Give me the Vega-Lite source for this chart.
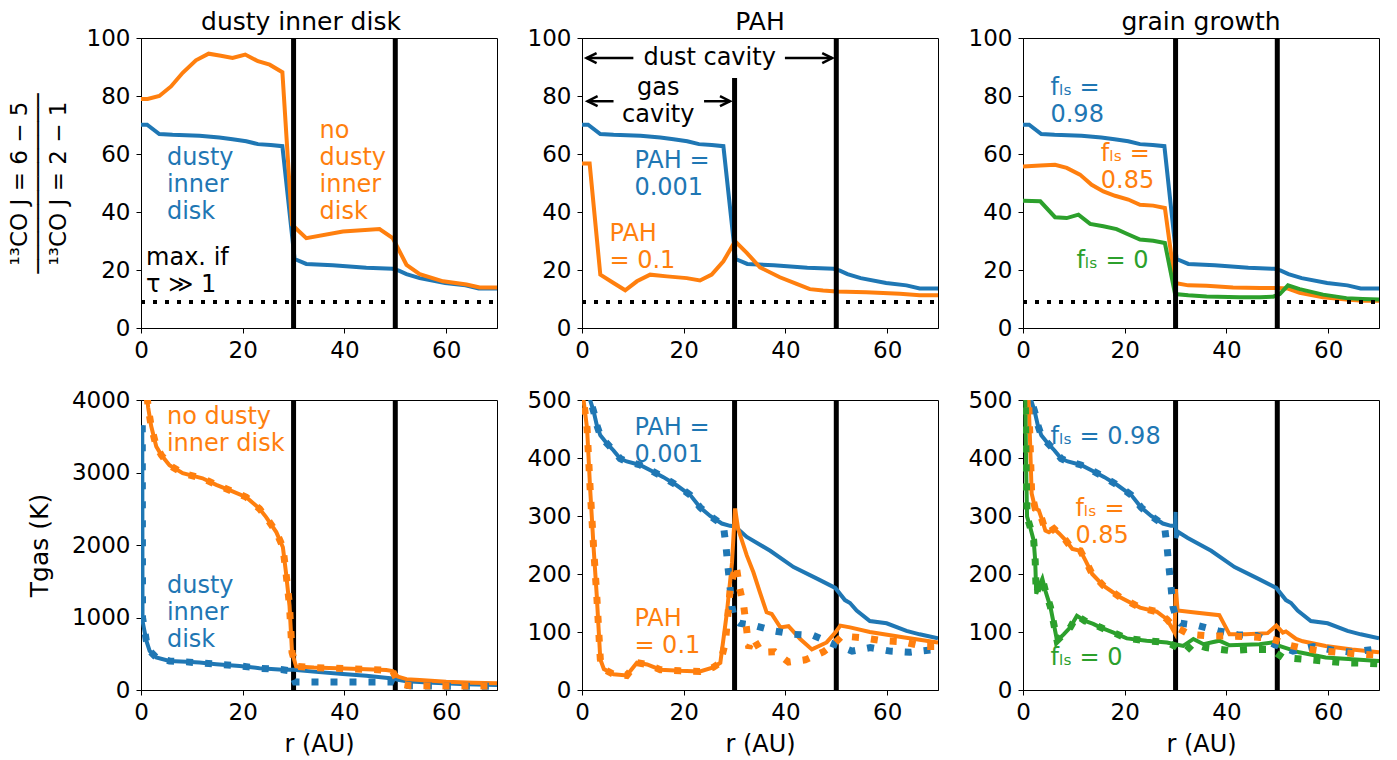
{
"$schema": "https://vega.github.io/schema/vega-lite/v6.json",
"padding": {"left": 7, "top": 9, "right": 5, "bottom": 5},
"background": "white",
"datasets": {
"lines": [
{"p":"A","s":"dusty inner disk","d":"solid","r":0,"v":70.1},{"p":"A","s":"dusty inner disk","d":"solid","r":1.2,"v":70.1},{"p":"A","s":"dusty inner disk","d":"solid","r":3.6,"v":66.9},{"p":"A","s":"dusty inner disk","d":"solid","r":6.2,"v":66.6},{"p":"A","s":"dusty inner disk","d":"solid","r":11.5,"v":66.3},{"p":"A","s":"dusty inner disk","d":"solid","r":15.4,"v":65.7},{"p":"A","s":"dusty inner disk","d":"solid","r":18,"v":65.1},{"p":"A","s":"dusty inner disk","d":"solid","r":20.7,"v":64.4},{"p":"A","s":"dusty inner disk","d":"solid","r":23,"v":63.4},{"p":"A","s":"dusty inner disk","d":"solid","r":25.5,"v":63.1},{"p":"A","s":"dusty inner disk","d":"solid","r":27.8,"v":62.7},{"p":"A","s":"dusty inner disk","d":"solid","r":30.2,"v":23.8},{"p":"A","s":"dusty inner disk","d":"solid","r":32.5,"v":22.1},{"p":"A","s":"dusty inner disk","d":"solid","r":37.7,"v":21.6},{"p":"A","s":"dusty inner disk","d":"solid","r":44.3,"v":20.8},{"p":"A","s":"dusty inner disk","d":"solid","r":49.5,"v":20.4},{"p":"A","s":"dusty inner disk","d":"solid","r":50.7,"v":19.8},{"p":"A","s":"dusty inner disk","d":"solid","r":52.2,"v":18.6},{"p":"A","s":"dusty inner disk","d":"solid","r":54.8,"v":17.2},{"p":"A","s":"dusty inner disk","d":"solid","r":59.8,"v":15.5},{"p":"A","s":"dusty inner disk","d":"solid","r":63.8,"v":14.7},{"p":"A","s":"dusty inner disk","d":"solid","r":66.4,"v":13.6},{"p":"A","s":"dusty inner disk","d":"solid","r":70,"v":13.6},
{"p":"A","s":"no dusty inner disk","d":"solid","r":0,"v":79},{"p":"A","s":"no dusty inner disk","d":"solid","r":1.3,"v":79},{"p":"A","s":"no dusty inner disk","d":"solid","r":3.6,"v":80},{"p":"A","s":"no dusty inner disk","d":"solid","r":5.9,"v":83.3},{"p":"A","s":"no dusty inner disk","d":"solid","r":8.2,"v":88},{"p":"A","s":"no dusty inner disk","d":"solid","r":10.8,"v":92.3},{"p":"A","s":"no dusty inner disk","d":"solid","r":13.3,"v":94.6},{"p":"A","s":"no dusty inner disk","d":"solid","r":15.7,"v":93.9},{"p":"A","s":"no dusty inner disk","d":"solid","r":18,"v":93.1},{"p":"A","s":"no dusty inner disk","d":"solid","r":20.5,"v":94.3},{"p":"A","s":"no dusty inner disk","d":"solid","r":23,"v":92},{"p":"A","s":"no dusty inner disk","d":"solid","r":25.3,"v":90.8},{"p":"A","s":"no dusty inner disk","d":"solid","r":27.8,"v":88.2},{"p":"A","s":"no dusty inner disk","d":"solid","r":29.7,"v":35.6},{"p":"A","s":"no dusty inner disk","d":"solid","r":32.5,"v":31},{"p":"A","s":"no dusty inner disk","d":"solid","r":39.7,"v":33.3},{"p":"A","s":"no dusty inner disk","d":"solid","r":46.9,"v":34.1},{"p":"A","s":"no dusty inner disk","d":"solid","r":49.5,"v":31},{"p":"A","s":"no dusty inner disk","d":"solid","r":52.2,"v":21.8},{"p":"A","s":"no dusty inner disk","d":"solid","r":54.8,"v":18.6},{"p":"A","s":"no dusty inner disk","d":"solid","r":59.4,"v":16.1},{"p":"A","s":"no dusty inner disk","d":"solid","r":64,"v":15},{"p":"A","s":"no dusty inner disk","d":"solid","r":66.6,"v":14},{"p":"A","s":"no dusty inner disk","d":"solid","r":70,"v":14},
{"p":"B","s":"PAH = 0.001","d":"solid","r":0,"v":70.1},{"p":"B","s":"PAH = 0.001","d":"solid","r":1.2,"v":70.1},{"p":"B","s":"PAH = 0.001","d":"solid","r":3.6,"v":66.9},{"p":"B","s":"PAH = 0.001","d":"solid","r":6.2,"v":66.6},{"p":"B","s":"PAH = 0.001","d":"solid","r":11.5,"v":66.3},{"p":"B","s":"PAH = 0.001","d":"solid","r":15.4,"v":65.7},{"p":"B","s":"PAH = 0.001","d":"solid","r":18,"v":65.1},{"p":"B","s":"PAH = 0.001","d":"solid","r":20.7,"v":64.4},{"p":"B","s":"PAH = 0.001","d":"solid","r":23,"v":63.4},{"p":"B","s":"PAH = 0.001","d":"solid","r":25.5,"v":63.1},{"p":"B","s":"PAH = 0.001","d":"solid","r":27.8,"v":62.7},{"p":"B","s":"PAH = 0.001","d":"solid","r":30.2,"v":23.8},{"p":"B","s":"PAH = 0.001","d":"solid","r":32.5,"v":22.1},{"p":"B","s":"PAH = 0.001","d":"solid","r":37.7,"v":21.6},{"p":"B","s":"PAH = 0.001","d":"solid","r":44.3,"v":20.8},{"p":"B","s":"PAH = 0.001","d":"solid","r":49.5,"v":20.4},{"p":"B","s":"PAH = 0.001","d":"solid","r":50.7,"v":19.8},{"p":"B","s":"PAH = 0.001","d":"solid","r":52.2,"v":18.6},{"p":"B","s":"PAH = 0.001","d":"solid","r":54.8,"v":17.2},{"p":"B","s":"PAH = 0.001","d":"solid","r":59.8,"v":15.5},{"p":"B","s":"PAH = 0.001","d":"solid","r":63.8,"v":14.7},{"p":"B","s":"PAH = 0.001","d":"solid","r":66.4,"v":13.6},{"p":"B","s":"PAH = 0.001","d":"solid","r":70,"v":13.6},
{"p":"B","s":"PAH = 0.1","d":"solid","r":0,"v":56.7},{"p":"B","s":"PAH = 0.1","d":"solid","r":1.5,"v":56.7},{"p":"B","s":"PAH = 0.1","d":"solid","r":3.6,"v":18.4},{"p":"B","s":"PAH = 0.1","d":"solid","r":6.2,"v":15.5},{"p":"B","s":"PAH = 0.1","d":"solid","r":8.5,"v":13},{"p":"B","s":"PAH = 0.1","d":"solid","r":10.8,"v":16.1},{"p":"B","s":"PAH = 0.1","d":"solid","r":13.4,"v":18.4},{"p":"B","s":"PAH = 0.1","d":"solid","r":16.7,"v":17.8},{"p":"B","s":"PAH = 0.1","d":"solid","r":20.6,"v":17.2},{"p":"B","s":"PAH = 0.1","d":"solid","r":23.2,"v":16.4},{"p":"B","s":"PAH = 0.1","d":"solid","r":25.5,"v":18.4},{"p":"B","s":"PAH = 0.1","d":"solid","r":27.8,"v":23},{"p":"B","s":"PAH = 0.1","d":"solid","r":30.1,"v":29.9},{"p":"B","s":"PAH = 0.1","d":"solid","r":32.4,"v":25.9},{"p":"B","s":"PAH = 0.1","d":"solid","r":35,"v":20.9},{"p":"B","s":"PAH = 0.1","d":"solid","r":38.9,"v":17.5},{"p":"B","s":"PAH = 0.1","d":"solid","r":42.2,"v":15.2},{"p":"B","s":"PAH = 0.1","d":"solid","r":44.8,"v":13.4},{"p":"B","s":"PAH = 0.1","d":"solid","r":47.4,"v":12.9},{"p":"B","s":"PAH = 0.1","d":"solid","r":50,"v":12.6},{"p":"B","s":"PAH = 0.1","d":"solid","r":55.9,"v":12.3},{"p":"B","s":"PAH = 0.1","d":"solid","r":62.5,"v":11.8},{"p":"B","s":"PAH = 0.1","d":"solid","r":66.4,"v":11.3},{"p":"B","s":"PAH = 0.1","d":"solid","r":70,"v":11.3},
{"p":"C","s":"fls = 0.98","d":"solid","r":0,"v":70.1},{"p":"C","s":"fls = 0.98","d":"solid","r":1.2,"v":70.1},{"p":"C","s":"fls = 0.98","d":"solid","r":3.6,"v":66.9},{"p":"C","s":"fls = 0.98","d":"solid","r":6.2,"v":66.6},{"p":"C","s":"fls = 0.98","d":"solid","r":11.5,"v":66.3},{"p":"C","s":"fls = 0.98","d":"solid","r":15.4,"v":65.7},{"p":"C","s":"fls = 0.98","d":"solid","r":18,"v":65.1},{"p":"C","s":"fls = 0.98","d":"solid","r":20.7,"v":64.4},{"p":"C","s":"fls = 0.98","d":"solid","r":23,"v":63.4},{"p":"C","s":"fls = 0.98","d":"solid","r":25.5,"v":63.1},{"p":"C","s":"fls = 0.98","d":"solid","r":27.8,"v":62.7},{"p":"C","s":"fls = 0.98","d":"solid","r":30.2,"v":23.8},{"p":"C","s":"fls = 0.98","d":"solid","r":32.5,"v":22.1},{"p":"C","s":"fls = 0.98","d":"solid","r":37.7,"v":21.6},{"p":"C","s":"fls = 0.98","d":"solid","r":44.3,"v":20.8},{"p":"C","s":"fls = 0.98","d":"solid","r":49.5,"v":20.4},{"p":"C","s":"fls = 0.98","d":"solid","r":50.7,"v":19.8},{"p":"C","s":"fls = 0.98","d":"solid","r":52.2,"v":18.6},{"p":"C","s":"fls = 0.98","d":"solid","r":54.8,"v":17.2},{"p":"C","s":"fls = 0.98","d":"solid","r":59.8,"v":15.5},{"p":"C","s":"fls = 0.98","d":"solid","r":63.8,"v":14.7},{"p":"C","s":"fls = 0.98","d":"solid","r":66.4,"v":13.6},{"p":"C","s":"fls = 0.98","d":"solid","r":70,"v":13.6},
{"p":"C","s":"fls = 0.85","d":"solid","r":0,"v":55.7},{"p":"C","s":"fls = 0.85","d":"solid","r":3.4,"v":56},{"p":"C","s":"fls = 0.85","d":"solid","r":6.3,"v":56.3},{"p":"C","s":"fls = 0.85","d":"solid","r":8.6,"v":55.2},{"p":"C","s":"fls = 0.85","d":"solid","r":11.2,"v":52.9},{"p":"C","s":"fls = 0.85","d":"solid","r":13.5,"v":49.4},{"p":"C","s":"fls = 0.85","d":"solid","r":15.8,"v":47.1},{"p":"C","s":"fls = 0.85","d":"solid","r":18.1,"v":45.6},{"p":"C","s":"fls = 0.85","d":"solid","r":20.7,"v":44.3},{"p":"C","s":"fls = 0.85","d":"solid","r":23,"v":42.5},{"p":"C","s":"fls = 0.85","d":"solid","r":25.6,"v":42.2},{"p":"C","s":"fls = 0.85","d":"solid","r":27.9,"v":41.4},{"p":"C","s":"fls = 0.85","d":"solid","r":29.9,"v":15.5},{"p":"C","s":"fls = 0.85","d":"solid","r":32.5,"v":14.7},{"p":"C","s":"fls = 0.85","d":"solid","r":36.1,"v":14.6},{"p":"C","s":"fls = 0.85","d":"solid","r":41.3,"v":14},{"p":"C","s":"fls = 0.85","d":"solid","r":46.6,"v":13.8},{"p":"C","s":"fls = 0.85","d":"solid","r":49.8,"v":13.8},{"p":"C","s":"fls = 0.85","d":"solid","r":52.1,"v":13.6},{"p":"C","s":"fls = 0.85","d":"solid","r":54.4,"v":12.1},{"p":"C","s":"fls = 0.85","d":"solid","r":59,"v":10.6},{"p":"C","s":"fls = 0.85","d":"solid","r":63.6,"v":9.8},{"p":"C","s":"fls = 0.85","d":"solid","r":66.8,"v":9.4},{"p":"C","s":"fls = 0.85","d":"solid","r":70,"v":9.4},
{"p":"C","s":"fls = 0","d":"solid","r":0,"v":43.9},{"p":"C","s":"fls = 0","d":"solid","r":3.4,"v":43.7},{"p":"C","s":"fls = 0","d":"solid","r":6.3,"v":38.2},{"p":"C","s":"fls = 0","d":"solid","r":8.6,"v":37.9},{"p":"C","s":"fls = 0","d":"solid","r":10.9,"v":39.1},{"p":"C","s":"fls = 0","d":"solid","r":13.2,"v":35.9},{"p":"C","s":"fls = 0","d":"solid","r":15.8,"v":35.1},{"p":"C","s":"fls = 0","d":"solid","r":18.4,"v":34.1},{"p":"C","s":"fls = 0","d":"solid","r":20.4,"v":32.5},{"p":"C","s":"fls = 0","d":"solid","r":23,"v":30.5},{"p":"C","s":"fls = 0","d":"solid","r":25.6,"v":30.1},{"p":"C","s":"fls = 0","d":"solid","r":27.9,"v":29.3},{"p":"C","s":"fls = 0","d":"solid","r":29.9,"v":11.7},{"p":"C","s":"fls = 0","d":"solid","r":32.5,"v":11.3},{"p":"C","s":"fls = 0","d":"solid","r":36.1,"v":10.9},{"p":"C","s":"fls = 0","d":"solid","r":42.6,"v":10.6},{"p":"C","s":"fls = 0","d":"solid","r":46.6,"v":10.6},{"p":"C","s":"fls = 0","d":"solid","r":49.2,"v":10.8},{"p":"C","s":"fls = 0","d":"solid","r":50.5,"v":11.7},{"p":"C","s":"fls = 0","d":"solid","r":52.1,"v":14.7},{"p":"C","s":"fls = 0","d":"solid","r":54.4,"v":13.4},{"p":"C","s":"fls = 0","d":"solid","r":59,"v":11.5},{"p":"C","s":"fls = 0","d":"solid","r":63.6,"v":10.3},{"p":"C","s":"fls = 0","d":"solid","r":66.8,"v":10},{"p":"C","s":"fls = 0","d":"solid","r":70,"v":9.8},
{"p":"D","s":"dusty inner disk","d":"solid","r":0.25,"v":3650},{"p":"D","s":"dusty inner disk","d":"solid","r":0.3,"v":950},{"p":"D","s":"dusty inner disk","d":"solid","r":1.05,"v":680},{"p":"D","s":"dusty inner disk","d":"solid","r":1.7,"v":540},{"p":"D","s":"dusty inner disk","d":"solid","r":3,"v":448},{"p":"D","s":"dusty inner disk","d":"solid","r":5.6,"v":401},{"p":"D","s":"dusty inner disk","d":"solid","r":8.9,"v":388},{"p":"D","s":"dusty inner disk","d":"solid","r":11.5,"v":378},{"p":"D","s":"dusty inner disk","d":"solid","r":14.8,"v":356},{"p":"D","s":"dusty inner disk","d":"solid","r":19.4,"v":332},{"p":"D","s":"dusty inner disk","d":"solid","r":23.3,"v":300},{"p":"D","s":"dusty inner disk","d":"solid","r":27.9,"v":280},{"p":"D","s":"dusty inner disk","d":"solid","r":30,"v":278},{"p":"D","s":"dusty inner disk","d":"solid","r":34.4,"v":250},{"p":"D","s":"dusty inner disk","d":"solid","r":39.7,"v":222},{"p":"D","s":"dusty inner disk","d":"solid","r":44.3,"v":195},{"p":"D","s":"dusty inner disk","d":"solid","r":49.5,"v":160},{"p":"D","s":"dusty inner disk","d":"solid","r":50.5,"v":140},{"p":"D","s":"dusty inner disk","d":"solid","r":52.2,"v":122},{"p":"D","s":"dusty inner disk","d":"solid","r":57.4,"v":100},{"p":"D","s":"dusty inner disk","d":"solid","r":64,"v":80},{"p":"D","s":"dusty inner disk","d":"solid","r":70,"v":70},
{"p":"D","s":"no dusty inner disk","d":"solid","r":0.9,"v":4300},{"p":"D","s":"no dusty inner disk","d":"solid","r":1.4,"v":3900},{"p":"D","s":"no dusty inner disk","d":"solid","r":2,"v":3640},{"p":"D","s":"no dusty inner disk","d":"solid","r":3,"v":3360},{"p":"D","s":"no dusty inner disk","d":"solid","r":4,"v":3240},{"p":"D","s":"no dusty inner disk","d":"solid","r":5.6,"v":3100},{"p":"D","s":"no dusty inner disk","d":"solid","r":8.2,"v":2990},{"p":"D","s":"no dusty inner disk","d":"solid","r":12.1,"v":2920},{"p":"D","s":"no dusty inner disk","d":"solid","r":14.8,"v":2830},{"p":"D","s":"no dusty inner disk","d":"solid","r":18,"v":2740},{"p":"D","s":"no dusty inner disk","d":"solid","r":20.7,"v":2660},{"p":"D","s":"no dusty inner disk","d":"solid","r":23.3,"v":2500},{"p":"D","s":"no dusty inner disk","d":"solid","r":24.6,"v":2385},{"p":"D","s":"no dusty inner disk","d":"solid","r":26.6,"v":2178},{"p":"D","s":"no dusty inner disk","d":"solid","r":27.9,"v":1970},{"p":"D","s":"no dusty inner disk","d":"solid","r":28.5,"v":1624},{"p":"D","s":"no dusty inner disk","d":"solid","r":29.2,"v":1163},{"p":"D","s":"no dusty inner disk","d":"solid","r":29.7,"v":517},{"p":"D","s":"no dusty inner disk","d":"solid","r":30.5,"v":325},{"p":"D","s":"no dusty inner disk","d":"solid","r":34,"v":310},{"p":"D","s":"no dusty inner disk","d":"solid","r":40,"v":295},{"p":"D","s":"no dusty inner disk","d":"solid","r":44.3,"v":285},{"p":"D","s":"no dusty inner disk","d":"solid","r":48.2,"v":275},{"p":"D","s":"no dusty inner disk","d":"solid","r":49.5,"v":260},{"p":"D","s":"no dusty inner disk","d":"solid","r":50.5,"v":185},{"p":"D","s":"no dusty inner disk","d":"solid","r":52.2,"v":150},{"p":"D","s":"no dusty inner disk","d":"solid","r":54.8,"v":138},{"p":"D","s":"no dusty inner disk","d":"solid","r":60,"v":115},{"p":"D","s":"no dusty inner disk","d":"solid","r":65.3,"v":101},{"p":"D","s":"no dusty inner disk","d":"solid","r":70,"v":92},
{"p":"D","s":"dusty inner disk","d":"dotted","r":0.25,"v":3650},{"p":"D","s":"dusty inner disk","d":"dotted","r":0.3,"v":1000},{"p":"D","s":"dusty inner disk","d":"dotted","r":1.05,"v":680},{"p":"D","s":"dusty inner disk","d":"dotted","r":1.7,"v":540},{"p":"D","s":"dusty inner disk","d":"dotted","r":3,"v":448},{"p":"D","s":"dusty inner disk","d":"dotted","r":5.6,"v":401},{"p":"D","s":"dusty inner disk","d":"dotted","r":8.9,"v":388},{"p":"D","s":"dusty inner disk","d":"dotted","r":14.8,"v":356},{"p":"D","s":"dusty inner disk","d":"dotted","r":19.4,"v":332},{"p":"D","s":"dusty inner disk","d":"dotted","r":23.3,"v":300},{"p":"D","s":"dusty inner disk","d":"dotted","r":27.9,"v":280},{"p":"D","s":"dusty inner disk","d":"dotted","r":29.3,"v":265},{"p":"D","s":"dusty inner disk","d":"dotted","r":30.3,"v":111},{"p":"D","s":"dusty inner disk","d":"dotted","r":40,"v":111},{"p":"D","s":"dusty inner disk","d":"dotted","r":49.5,"v":111},{"p":"D","s":"dusty inner disk","d":"dotted","r":50.5,"v":79},{"p":"D","s":"dusty inner disk","d":"dotted","r":53,"v":58},{"p":"D","s":"dusty inner disk","d":"dotted","r":60,"v":52},{"p":"D","s":"dusty inner disk","d":"dotted","r":70,"v":50},
{"p":"D","s":"no dusty inner disk","d":"dotted","r":0.9,"v":4300},{"p":"D","s":"no dusty inner disk","d":"dotted","r":1.4,"v":3900},{"p":"D","s":"no dusty inner disk","d":"dotted","r":2,"v":3640},{"p":"D","s":"no dusty inner disk","d":"dotted","r":3,"v":3360},{"p":"D","s":"no dusty inner disk","d":"dotted","r":4,"v":3240},{"p":"D","s":"no dusty inner disk","d":"dotted","r":5.6,"v":3100},{"p":"D","s":"no dusty inner disk","d":"dotted","r":8.2,"v":2990},{"p":"D","s":"no dusty inner disk","d":"dotted","r":12.1,"v":2920},{"p":"D","s":"no dusty inner disk","d":"dotted","r":14.8,"v":2830},{"p":"D","s":"no dusty inner disk","d":"dotted","r":18,"v":2740},{"p":"D","s":"no dusty inner disk","d":"dotted","r":20.7,"v":2660},{"p":"D","s":"no dusty inner disk","d":"dotted","r":23.3,"v":2500},{"p":"D","s":"no dusty inner disk","d":"dotted","r":24.6,"v":2385},{"p":"D","s":"no dusty inner disk","d":"dotted","r":26.6,"v":2178},{"p":"D","s":"no dusty inner disk","d":"dotted","r":27.9,"v":1970},{"p":"D","s":"no dusty inner disk","d":"dotted","r":28.5,"v":1624},{"p":"D","s":"no dusty inner disk","d":"dotted","r":29.2,"v":1163},{"p":"D","s":"no dusty inner disk","d":"dotted","r":29.7,"v":517},{"p":"D","s":"no dusty inner disk","d":"dotted","r":30.5,"v":325},{"p":"D","s":"no dusty inner disk","d":"dotted","r":34,"v":310},{"p":"D","s":"no dusty inner disk","d":"dotted","r":40,"v":295},{"p":"D","s":"no dusty inner disk","d":"dotted","r":44.3,"v":285},{"p":"D","s":"no dusty inner disk","d":"dotted","r":48.2,"v":275},{"p":"D","s":"no dusty inner disk","d":"dotted","r":49.5,"v":260},{"p":"D","s":"no dusty inner disk","d":"dotted","r":50.5,"v":110},{"p":"D","s":"no dusty inner disk","d":"dotted","r":51.5,"v":75},{"p":"D","s":"no dusty inner disk","d":"dotted","r":53,"v":58},{"p":"D","s":"no dusty inner disk","d":"dotted","r":60,"v":55},{"p":"D","s":"no dusty inner disk","d":"dotted","r":70,"v":55},
{"p":"E","s":"PAH = 0.001","d":"solid","r":1.4,"v":520},{"p":"E","s":"PAH = 0.001","d":"solid","r":1.6,"v":500},{"p":"E","s":"PAH = 0.001","d":"solid","r":2.3,"v":480},{"p":"E","s":"PAH = 0.001","d":"solid","r":2.9,"v":457},{"p":"E","s":"PAH = 0.001","d":"solid","r":3.6,"v":439},{"p":"E","s":"PAH = 0.001","d":"solid","r":4.9,"v":425},{"p":"E","s":"PAH = 0.001","d":"solid","r":6.2,"v":413},{"p":"E","s":"PAH = 0.001","d":"solid","r":7.5,"v":399},{"p":"E","s":"PAH = 0.001","d":"solid","r":8.8,"v":394},{"p":"E","s":"PAH = 0.001","d":"solid","r":11.4,"v":388},{"p":"E","s":"PAH = 0.001","d":"solid","r":14.1,"v":376},{"p":"E","s":"PAH = 0.001","d":"solid","r":16,"v":367},{"p":"E","s":"PAH = 0.001","d":"solid","r":18.6,"v":353},{"p":"E","s":"PAH = 0.001","d":"solid","r":21.3,"v":336},{"p":"E","s":"PAH = 0.001","d":"solid","r":23.2,"v":315},{"p":"E","s":"PAH = 0.001","d":"solid","r":25.2,"v":300},{"p":"E","s":"PAH = 0.001","d":"solid","r":27.5,"v":287},{"p":"E","s":"PAH = 0.001","d":"solid","r":29.1,"v":283},{"p":"E","s":"PAH = 0.001","d":"solid","r":30.1,"v":282},{"p":"E","s":"PAH = 0.001","d":"solid","r":32.4,"v":264},{"p":"E","s":"PAH = 0.001","d":"solid","r":37,"v":240},{"p":"E","s":"PAH = 0.001","d":"solid","r":41.6,"v":212},{"p":"E","s":"PAH = 0.001","d":"solid","r":46.2,"v":192},{"p":"E","s":"PAH = 0.001","d":"solid","r":49.8,"v":176},{"p":"E","s":"PAH = 0.001","d":"solid","r":51.7,"v":155},{"p":"E","s":"PAH = 0.001","d":"solid","r":52.7,"v":150},{"p":"E","s":"PAH = 0.001","d":"solid","r":54,"v":137},{"p":"E","s":"PAH = 0.001","d":"solid","r":56.6,"v":119},{"p":"E","s":"PAH = 0.001","d":"solid","r":59.9,"v":115},{"p":"E","s":"PAH = 0.001","d":"solid","r":63.8,"v":102},{"p":"E","s":"PAH = 0.001","d":"solid","r":66.4,"v":96},{"p":"E","s":"PAH = 0.001","d":"solid","r":70,"v":89},
{"p":"E","s":"PAH = 0.1","d":"solid","r":0.2,"v":520},{"p":"E","s":"PAH = 0.1","d":"solid","r":0.3,"v":500},{"p":"E","s":"PAH = 0.1","d":"solid","r":1,"v":451},{"p":"E","s":"PAH = 0.1","d":"solid","r":1.6,"v":347},{"p":"E","s":"PAH = 0.1","d":"solid","r":2.3,"v":243},{"p":"E","s":"PAH = 0.1","d":"solid","r":2.9,"v":163},{"p":"E","s":"PAH = 0.1","d":"solid","r":3.6,"v":53},{"p":"E","s":"PAH = 0.1","d":"solid","r":4.3,"v":36},{"p":"E","s":"PAH = 0.1","d":"solid","r":6.2,"v":27},{"p":"E","s":"PAH = 0.1","d":"solid","r":8.8,"v":25},{"p":"E","s":"PAH = 0.1","d":"solid","r":10.8,"v":47},{"p":"E","s":"PAH = 0.1","d":"solid","r":12.8,"v":44},{"p":"E","s":"PAH = 0.1","d":"solid","r":15.4,"v":35},{"p":"E","s":"PAH = 0.1","d":"solid","r":19.3,"v":33},{"p":"E","s":"PAH = 0.1","d":"solid","r":23.2,"v":32},{"p":"E","s":"PAH = 0.1","d":"solid","r":25.8,"v":39},{"p":"E","s":"PAH = 0.1","d":"solid","r":27.2,"v":47},{"p":"E","s":"PAH = 0.1","d":"solid","r":28.5,"v":134},{"p":"E","s":"PAH = 0.1","d":"solid","r":29.5,"v":220},{"p":"E","s":"PAH = 0.1","d":"solid","r":30.1,"v":313},{"p":"E","s":"PAH = 0.1","d":"solid","r":30.7,"v":278},{"p":"E","s":"PAH = 0.1","d":"solid","r":32.4,"v":232},{"p":"E","s":"PAH = 0.1","d":"solid","r":33.7,"v":203},{"p":"E","s":"PAH = 0.1","d":"solid","r":35,"v":168},{"p":"E","s":"PAH = 0.1","d":"solid","r":36.3,"v":134},{"p":"E","s":"PAH = 0.1","d":"solid","r":37.3,"v":131},{"p":"E","s":"PAH = 0.1","d":"solid","r":39,"v":108},{"p":"E","s":"PAH = 0.1","d":"solid","r":40.6,"v":110},{"p":"E","s":"PAH = 0.1","d":"solid","r":42.9,"v":88},{"p":"E","s":"PAH = 0.1","d":"solid","r":45.2,"v":70},{"p":"E","s":"PAH = 0.1","d":"solid","r":48.1,"v":82},{"p":"E","s":"PAH = 0.1","d":"solid","r":49.8,"v":99},{"p":"E","s":"PAH = 0.1","d":"solid","r":50.8,"v":111},{"p":"E","s":"PAH = 0.1","d":"solid","r":52.7,"v":108},{"p":"E","s":"PAH = 0.1","d":"solid","r":56.6,"v":100},{"p":"E","s":"PAH = 0.1","d":"solid","r":63.1,"v":91},{"p":"E","s":"PAH = 0.1","d":"solid","r":70,"v":82},
{"p":"E","s":"PAH = 0.001","d":"dotted","r":1.4,"v":520},{"p":"E","s":"PAH = 0.001","d":"dotted","r":1.6,"v":500},{"p":"E","s":"PAH = 0.001","d":"dotted","r":2.3,"v":480},{"p":"E","s":"PAH = 0.001","d":"dotted","r":2.9,"v":457},{"p":"E","s":"PAH = 0.001","d":"dotted","r":3.6,"v":439},{"p":"E","s":"PAH = 0.001","d":"dotted","r":4.9,"v":425},{"p":"E","s":"PAH = 0.001","d":"dotted","r":6.2,"v":413},{"p":"E","s":"PAH = 0.001","d":"dotted","r":7.5,"v":399},{"p":"E","s":"PAH = 0.001","d":"dotted","r":8.8,"v":394},{"p":"E","s":"PAH = 0.001","d":"dotted","r":11.4,"v":388},{"p":"E","s":"PAH = 0.001","d":"dotted","r":14.1,"v":376},{"p":"E","s":"PAH = 0.001","d":"dotted","r":16,"v":367},{"p":"E","s":"PAH = 0.001","d":"dotted","r":18.6,"v":353},{"p":"E","s":"PAH = 0.001","d":"dotted","r":21.3,"v":336},{"p":"E","s":"PAH = 0.001","d":"dotted","r":23.2,"v":315},{"p":"E","s":"PAH = 0.001","d":"dotted","r":25.2,"v":300},{"p":"E","s":"PAH = 0.001","d":"dotted","r":27.8,"v":284},{"p":"E","s":"PAH = 0.001","d":"dotted","r":28.3,"v":249},{"p":"E","s":"PAH = 0.001","d":"dotted","r":28.7,"v":212},{"p":"E","s":"PAH = 0.001","d":"dotted","r":29.1,"v":178},{"p":"E","s":"PAH = 0.001","d":"dotted","r":29.5,"v":143},{"p":"E","s":"PAH = 0.001","d":"dotted","r":30,"v":122},{"p":"E","s":"PAH = 0.001","d":"dotted","r":31,"v":115},{"p":"E","s":"PAH = 0.001","d":"dotted","r":34,"v":111},{"p":"E","s":"PAH = 0.001","d":"dotted","r":37.7,"v":102},{"p":"E","s":"PAH = 0.001","d":"dotted","r":41.6,"v":96},{"p":"E","s":"PAH = 0.001","d":"dotted","r":45.5,"v":94},{"p":"E","s":"PAH = 0.001","d":"dotted","r":49.5,"v":79},{"p":"E","s":"PAH = 0.001","d":"dotted","r":53.1,"v":67},{"p":"E","s":"PAH = 0.001","d":"dotted","r":56.7,"v":73},{"p":"E","s":"PAH = 0.001","d":"dotted","r":60.6,"v":67},{"p":"E","s":"PAH = 0.001","d":"dotted","r":64.5,"v":65},{"p":"E","s":"PAH = 0.001","d":"dotted","r":68.5,"v":69},{"p":"E","s":"PAH = 0.001","d":"dotted","r":70,"v":68},
{"p":"E","s":"PAH = 0.1","d":"dotted","r":0.2,"v":520},{"p":"E","s":"PAH = 0.1","d":"dotted","r":0.3,"v":500},{"p":"E","s":"PAH = 0.1","d":"dotted","r":1,"v":451},{"p":"E","s":"PAH = 0.1","d":"dotted","r":1.6,"v":347},{"p":"E","s":"PAH = 0.1","d":"dotted","r":2.3,"v":243},{"p":"E","s":"PAH = 0.1","d":"dotted","r":2.9,"v":163},{"p":"E","s":"PAH = 0.1","d":"dotted","r":3.6,"v":53},{"p":"E","s":"PAH = 0.1","d":"dotted","r":4.3,"v":36},{"p":"E","s":"PAH = 0.1","d":"dotted","r":6.2,"v":27},{"p":"E","s":"PAH = 0.1","d":"dotted","r":8.8,"v":25},{"p":"E","s":"PAH = 0.1","d":"dotted","r":10.8,"v":47},{"p":"E","s":"PAH = 0.1","d":"dotted","r":12.8,"v":44},{"p":"E","s":"PAH = 0.1","d":"dotted","r":15.4,"v":35},{"p":"E","s":"PAH = 0.1","d":"dotted","r":19.3,"v":33},{"p":"E","s":"PAH = 0.1","d":"dotted","r":23.2,"v":32},{"p":"E","s":"PAH = 0.1","d":"dotted","r":25.8,"v":39},{"p":"E","s":"PAH = 0.1","d":"dotted","r":27.2,"v":47},{"p":"E","s":"PAH = 0.1","d":"dotted","r":28.2,"v":82},{"p":"E","s":"PAH = 0.1","d":"dotted","r":29.2,"v":180},{"p":"E","s":"PAH = 0.1","d":"dotted","r":30.3,"v":215},{"p":"E","s":"PAH = 0.1","d":"dotted","r":31,"v":175},{"p":"E","s":"PAH = 0.1","d":"dotted","r":31.8,"v":145},{"p":"E","s":"PAH = 0.1","d":"dotted","r":32.3,"v":110},{"p":"E","s":"PAH = 0.1","d":"dotted","r":32.8,"v":72},{"p":"E","s":"PAH = 0.1","d":"dotted","r":33.6,"v":90},{"p":"E","s":"PAH = 0.1","d":"dotted","r":35.3,"v":65},{"p":"E","s":"PAH = 0.1","d":"dotted","r":37.9,"v":66},{"p":"E","s":"PAH = 0.1","d":"dotted","r":40.6,"v":48},{"p":"E","s":"PAH = 0.1","d":"dotted","r":43.9,"v":52},{"p":"E","s":"PAH = 0.1","d":"dotted","r":47.5,"v":66},{"p":"E","s":"PAH = 0.1","d":"dotted","r":49.5,"v":79},{"p":"E","s":"PAH = 0.1","d":"dotted","r":51.1,"v":93},{"p":"E","s":"PAH = 0.1","d":"dotted","r":55.4,"v":90},{"p":"E","s":"PAH = 0.1","d":"dotted","r":59,"v":85},{"p":"E","s":"PAH = 0.1","d":"dotted","r":63.2,"v":83},{"p":"E","s":"PAH = 0.1","d":"dotted","r":67.2,"v":75},{"p":"E","s":"PAH = 0.1","d":"dotted","r":70,"v":75},
{"p":"F","s":"fls = 0.98","d":"solid","r":1.4,"v":520},{"p":"F","s":"fls = 0.98","d":"solid","r":1.6,"v":500},{"p":"F","s":"fls = 0.98","d":"solid","r":2.3,"v":480},{"p":"F","s":"fls = 0.98","d":"solid","r":2.9,"v":457},{"p":"F","s":"fls = 0.98","d":"solid","r":3.6,"v":439},{"p":"F","s":"fls = 0.98","d":"solid","r":4.9,"v":425},{"p":"F","s":"fls = 0.98","d":"solid","r":6.2,"v":413},{"p":"F","s":"fls = 0.98","d":"solid","r":7.5,"v":399},{"p":"F","s":"fls = 0.98","d":"solid","r":8.8,"v":394},{"p":"F","s":"fls = 0.98","d":"solid","r":11.4,"v":388},{"p":"F","s":"fls = 0.98","d":"solid","r":14.1,"v":376},{"p":"F","s":"fls = 0.98","d":"solid","r":16,"v":367},{"p":"F","s":"fls = 0.98","d":"solid","r":18.6,"v":353},{"p":"F","s":"fls = 0.98","d":"solid","r":21.3,"v":336},{"p":"F","s":"fls = 0.98","d":"solid","r":23.2,"v":315},{"p":"F","s":"fls = 0.98","d":"solid","r":25.2,"v":300},{"p":"F","s":"fls = 0.98","d":"solid","r":27.5,"v":287},{"p":"F","s":"fls = 0.98","d":"solid","r":29.1,"v":283},{"p":"F","s":"fls = 0.98","d":"solid","r":29.9,"v":283},{"p":"F","s":"fls = 0.98","d":"solid","r":30,"v":307},{"p":"F","s":"fls = 0.98","d":"solid","r":30.1,"v":262},{"p":"F","s":"fls = 0.98","d":"solid","r":30.6,"v":272},{"p":"F","s":"fls = 0.98","d":"solid","r":32.4,"v":262},{"p":"F","s":"fls = 0.98","d":"solid","r":37,"v":240},{"p":"F","s":"fls = 0.98","d":"solid","r":41.6,"v":212},{"p":"F","s":"fls = 0.98","d":"solid","r":46.2,"v":192},{"p":"F","s":"fls = 0.98","d":"solid","r":49.8,"v":176},{"p":"F","s":"fls = 0.98","d":"solid","r":51.7,"v":155},{"p":"F","s":"fls = 0.98","d":"solid","r":52.7,"v":150},{"p":"F","s":"fls = 0.98","d":"solid","r":54,"v":137},{"p":"F","s":"fls = 0.98","d":"solid","r":56.6,"v":119},{"p":"F","s":"fls = 0.98","d":"solid","r":59.9,"v":115},{"p":"F","s":"fls = 0.98","d":"solid","r":63.8,"v":102},{"p":"F","s":"fls = 0.98","d":"solid","r":66.4,"v":96},{"p":"F","s":"fls = 0.98","d":"solid","r":70,"v":89},
{"p":"F","s":"fls = 0.85","d":"solid","r":1,"v":520},{"p":"F","s":"fls = 0.85","d":"solid","r":1.1,"v":500},{"p":"F","s":"fls = 0.85","d":"solid","r":1.4,"v":425},{"p":"F","s":"fls = 0.85","d":"solid","r":1.7,"v":339},{"p":"F","s":"fls = 0.85","d":"solid","r":2.4,"v":313},{"p":"F","s":"fls = 0.85","d":"solid","r":3.1,"v":310},{"p":"F","s":"fls = 0.85","d":"solid","r":3.8,"v":292},{"p":"F","s":"fls = 0.85","d":"solid","r":4.4,"v":275},{"p":"F","s":"fls = 0.85","d":"solid","r":5.1,"v":272},{"p":"F","s":"fls = 0.85","d":"solid","r":6.1,"v":278},{"p":"F","s":"fls = 0.85","d":"solid","r":7.1,"v":270},{"p":"F","s":"fls = 0.85","d":"solid","r":8.4,"v":258},{"p":"F","s":"fls = 0.85","d":"solid","r":9.7,"v":243},{"p":"F","s":"fls = 0.85","d":"solid","r":11.3,"v":240},{"p":"F","s":"fls = 0.85","d":"solid","r":12.3,"v":223},{"p":"F","s":"fls = 0.85","d":"solid","r":13.6,"v":200},{"p":"F","s":"fls = 0.85","d":"solid","r":15.8,"v":180},{"p":"F","s":"fls = 0.85","d":"solid","r":19.1,"v":160},{"p":"F","s":"fls = 0.85","d":"solid","r":23,"v":142},{"p":"F","s":"fls = 0.85","d":"solid","r":26.3,"v":135},{"p":"F","s":"fls = 0.85","d":"solid","r":28.3,"v":122},{"p":"F","s":"fls = 0.85","d":"solid","r":29.8,"v":99},{"p":"F","s":"fls = 0.85","d":"solid","r":30.05,"v":174},{"p":"F","s":"fls = 0.85","d":"solid","r":30.4,"v":137},{"p":"F","s":"fls = 0.85","d":"solid","r":33.4,"v":134},{"p":"F","s":"fls = 0.85","d":"solid","r":38.6,"v":129},{"p":"F","s":"fls = 0.85","d":"solid","r":40.6,"v":96},{"p":"F","s":"fls = 0.85","d":"solid","r":43.8,"v":96},{"p":"F","s":"fls = 0.85","d":"solid","r":48.1,"v":98},{"p":"F","s":"fls = 0.85","d":"solid","r":49.8,"v":111},{"p":"F","s":"fls = 0.85","d":"solid","r":51.1,"v":99},{"p":"F","s":"fls = 0.85","d":"solid","r":51.7,"v":101},{"p":"F","s":"fls = 0.85","d":"solid","r":53.7,"v":88},{"p":"F","s":"fls = 0.85","d":"solid","r":55,"v":84},{"p":"F","s":"fls = 0.85","d":"solid","r":59.5,"v":76},{"p":"F","s":"fls = 0.85","d":"solid","r":64.7,"v":70},{"p":"F","s":"fls = 0.85","d":"solid","r":70,"v":65},
{"p":"F","s":"fls = 0","d":"solid","r":0.4,"v":520},{"p":"F","s":"fls = 0","d":"solid","r":0.45,"v":500},{"p":"F","s":"fls = 0","d":"solid","r":0.65,"v":368},{"p":"F","s":"fls = 0","d":"solid","r":0.8,"v":299},{"p":"F","s":"fls = 0","d":"solid","r":1.4,"v":281},{"p":"F","s":"fls = 0","d":"solid","r":2.1,"v":258},{"p":"F","s":"fls = 0","d":"solid","r":2.4,"v":223},{"p":"F","s":"fls = 0","d":"solid","r":2.6,"v":166},{"p":"F","s":"fls = 0","d":"solid","r":3.1,"v":178},{"p":"F","s":"fls = 0","d":"solid","r":3.8,"v":192},{"p":"F","s":"fls = 0","d":"solid","r":4.4,"v":171},{"p":"F","s":"fls = 0","d":"solid","r":5.4,"v":143},{"p":"F","s":"fls = 0","d":"solid","r":6.7,"v":85},{"p":"F","s":"fls = 0","d":"solid","r":8,"v":96},{"p":"F","s":"fls = 0","d":"solid","r":9.3,"v":108},{"p":"F","s":"fls = 0","d":"solid","r":10.6,"v":128},{"p":"F","s":"fls = 0","d":"solid","r":12.2,"v":119},{"p":"F","s":"fls = 0","d":"solid","r":13.8,"v":114},{"p":"F","s":"fls = 0","d":"solid","r":15.2,"v":108},{"p":"F","s":"fls = 0","d":"solid","r":17.8,"v":99},{"p":"F","s":"fls = 0","d":"solid","r":20.4,"v":89},{"p":"F","s":"fls = 0","d":"solid","r":24.3,"v":85},{"p":"F","s":"fls = 0","d":"solid","r":28.3,"v":82},{"p":"F","s":"fls = 0","d":"solid","r":29.9,"v":79},{"p":"F","s":"fls = 0","d":"solid","r":31.5,"v":76},{"p":"F","s":"fls = 0","d":"solid","r":33.5,"v":88},{"p":"F","s":"fls = 0","d":"solid","r":35.5,"v":79},{"p":"F","s":"fls = 0","d":"solid","r":38.6,"v":85},{"p":"F","s":"fls = 0","d":"solid","r":40.6,"v":77},{"p":"F","s":"fls = 0","d":"solid","r":46.5,"v":79},{"p":"F","s":"fls = 0","d":"solid","r":49.1,"v":82},{"p":"F","s":"fls = 0","d":"solid","r":50.4,"v":76},{"p":"F","s":"fls = 0","d":"solid","r":54.3,"v":65},{"p":"F","s":"fls = 0","d":"solid","r":59.5,"v":56},{"p":"F","s":"fls = 0","d":"solid","r":64.7,"v":53},{"p":"F","s":"fls = 0","d":"solid","r":70,"v":50},
{"p":"F","s":"fls = 0.98","d":"dotted","r":1.4,"v":520},{"p":"F","s":"fls = 0.98","d":"dotted","r":1.6,"v":500},{"p":"F","s":"fls = 0.98","d":"dotted","r":2.3,"v":480},{"p":"F","s":"fls = 0.98","d":"dotted","r":2.9,"v":457},{"p":"F","s":"fls = 0.98","d":"dotted","r":3.6,"v":439},{"p":"F","s":"fls = 0.98","d":"dotted","r":4.9,"v":425},{"p":"F","s":"fls = 0.98","d":"dotted","r":6.2,"v":413},{"p":"F","s":"fls = 0.98","d":"dotted","r":7.5,"v":399},{"p":"F","s":"fls = 0.98","d":"dotted","r":8.8,"v":394},{"p":"F","s":"fls = 0.98","d":"dotted","r":11.4,"v":388},{"p":"F","s":"fls = 0.98","d":"dotted","r":14.1,"v":376},{"p":"F","s":"fls = 0.98","d":"dotted","r":16,"v":367},{"p":"F","s":"fls = 0.98","d":"dotted","r":18.6,"v":353},{"p":"F","s":"fls = 0.98","d":"dotted","r":21.3,"v":336},{"p":"F","s":"fls = 0.98","d":"dotted","r":23.2,"v":315},{"p":"F","s":"fls = 0.98","d":"dotted","r":25.2,"v":300},{"p":"F","s":"fls = 0.98","d":"dotted","r":27.8,"v":284},{"p":"F","s":"fls = 0.98","d":"dotted","r":28.3,"v":249},{"p":"F","s":"fls = 0.98","d":"dotted","r":28.7,"v":212},{"p":"F","s":"fls = 0.98","d":"dotted","r":29.1,"v":178},{"p":"F","s":"fls = 0.98","d":"dotted","r":29.5,"v":143},{"p":"F","s":"fls = 0.98","d":"dotted","r":30.2,"v":122},{"p":"F","s":"fls = 0.98","d":"dotted","r":31,"v":115},{"p":"F","s":"fls = 0.98","d":"dotted","r":34.5,"v":111},{"p":"F","s":"fls = 0.98","d":"dotted","r":38.4,"v":102},{"p":"F","s":"fls = 0.98","d":"dotted","r":42.3,"v":95},{"p":"F","s":"fls = 0.98","d":"dotted","r":45.9,"v":94},{"p":"F","s":"fls = 0.98","d":"dotted","r":49.5,"v":78},{"p":"F","s":"fls = 0.98","d":"dotted","r":53.1,"v":67},{"p":"F","s":"fls = 0.98","d":"dotted","r":57.1,"v":75},{"p":"F","s":"fls = 0.98","d":"dotted","r":60.7,"v":69},{"p":"F","s":"fls = 0.98","d":"dotted","r":64.6,"v":65},{"p":"F","s":"fls = 0.98","d":"dotted","r":68.8,"v":70},{"p":"F","s":"fls = 0.98","d":"dotted","r":70,"v":68},
{"p":"F","s":"fls = 0.85","d":"dotted","r":1,"v":520},{"p":"F","s":"fls = 0.85","d":"dotted","r":1.1,"v":500},{"p":"F","s":"fls = 0.85","d":"dotted","r":1.4,"v":425},{"p":"F","s":"fls = 0.85","d":"dotted","r":1.7,"v":339},{"p":"F","s":"fls = 0.85","d":"dotted","r":2.4,"v":313},{"p":"F","s":"fls = 0.85","d":"dotted","r":3.1,"v":310},{"p":"F","s":"fls = 0.85","d":"dotted","r":3.8,"v":292},{"p":"F","s":"fls = 0.85","d":"dotted","r":4.4,"v":275},{"p":"F","s":"fls = 0.85","d":"dotted","r":5.1,"v":272},{"p":"F","s":"fls = 0.85","d":"dotted","r":6.1,"v":278},{"p":"F","s":"fls = 0.85","d":"dotted","r":7.1,"v":270},{"p":"F","s":"fls = 0.85","d":"dotted","r":8.4,"v":258},{"p":"F","s":"fls = 0.85","d":"dotted","r":9.7,"v":243},{"p":"F","s":"fls = 0.85","d":"dotted","r":11.3,"v":240},{"p":"F","s":"fls = 0.85","d":"dotted","r":12.3,"v":223},{"p":"F","s":"fls = 0.85","d":"dotted","r":13.6,"v":200},{"p":"F","s":"fls = 0.85","d":"dotted","r":15.8,"v":180},{"p":"F","s":"fls = 0.85","d":"dotted","r":19.1,"v":160},{"p":"F","s":"fls = 0.85","d":"dotted","r":23,"v":142},{"p":"F","s":"fls = 0.85","d":"dotted","r":26.3,"v":135},{"p":"F","s":"fls = 0.85","d":"dotted","r":28.3,"v":122},{"p":"F","s":"fls = 0.85","d":"dotted","r":29.5,"v":110},{"p":"F","s":"fls = 0.85","d":"dotted","r":31,"v":104},{"p":"F","s":"fls = 0.85","d":"dotted","r":32.7,"v":96},{"p":"F","s":"fls = 0.85","d":"dotted","r":36.7,"v":93},{"p":"F","s":"fls = 0.85","d":"dotted","r":40.6,"v":93},{"p":"F","s":"fls = 0.85","d":"dotted","r":44.5,"v":92},{"p":"F","s":"fls = 0.85","d":"dotted","r":48,"v":90},{"p":"F","s":"fls = 0.85","d":"dotted","r":50,"v":85},{"p":"F","s":"fls = 0.85","d":"dotted","r":52,"v":78},{"p":"F","s":"fls = 0.85","d":"dotted","r":55,"v":72},{"p":"F","s":"fls = 0.85","d":"dotted","r":58,"v":68},{"p":"F","s":"fls = 0.85","d":"dotted","r":62,"v":65},{"p":"F","s":"fls = 0.85","d":"dotted","r":66,"v":62},{"p":"F","s":"fls = 0.85","d":"dotted","r":70,"v":60},
{"p":"F","s":"fls = 0","d":"dotted","r":0.4,"v":520},{"p":"F","s":"fls = 0","d":"dotted","r":0.45,"v":500},{"p":"F","s":"fls = 0","d":"dotted","r":0.65,"v":368},{"p":"F","s":"fls = 0","d":"dotted","r":0.8,"v":299},{"p":"F","s":"fls = 0","d":"dotted","r":1.4,"v":281},{"p":"F","s":"fls = 0","d":"dotted","r":2.1,"v":258},{"p":"F","s":"fls = 0","d":"dotted","r":2.4,"v":223},{"p":"F","s":"fls = 0","d":"dotted","r":2.6,"v":166},{"p":"F","s":"fls = 0","d":"dotted","r":3.1,"v":178},{"p":"F","s":"fls = 0","d":"dotted","r":3.8,"v":192},{"p":"F","s":"fls = 0","d":"dotted","r":4.4,"v":171},{"p":"F","s":"fls = 0","d":"dotted","r":5.4,"v":143},{"p":"F","s":"fls = 0","d":"dotted","r":6.7,"v":85},{"p":"F","s":"fls = 0","d":"dotted","r":8,"v":96},{"p":"F","s":"fls = 0","d":"dotted","r":9.3,"v":108},{"p":"F","s":"fls = 0","d":"dotted","r":10.6,"v":128},{"p":"F","s":"fls = 0","d":"dotted","r":12.2,"v":119},{"p":"F","s":"fls = 0","d":"dotted","r":13.8,"v":114},{"p":"F","s":"fls = 0","d":"dotted","r":15.2,"v":108},{"p":"F","s":"fls = 0","d":"dotted","r":17.8,"v":99},{"p":"F","s":"fls = 0","d":"dotted","r":20.4,"v":89},{"p":"F","s":"fls = 0","d":"dotted","r":24.3,"v":85},{"p":"F","s":"fls = 0","d":"dotted","r":28.3,"v":82},{"p":"F","s":"fls = 0","d":"dotted","r":30,"v":75},{"p":"F","s":"fls = 0","d":"dotted","r":31.8,"v":65},{"p":"F","s":"fls = 0","d":"dotted","r":33.5,"v":80},{"p":"F","s":"fls = 0","d":"dotted","r":36,"v":73},{"p":"F","s":"fls = 0","d":"dotted","r":40.6,"v":68},{"p":"F","s":"fls = 0","d":"dotted","r":44.5,"v":70},{"p":"F","s":"fls = 0","d":"dotted","r":48.8,"v":70},{"p":"F","s":"fls = 0","d":"dotted","r":51.1,"v":56},{"p":"F","s":"fls = 0","d":"dotted","r":55.3,"v":53},{"p":"F","s":"fls = 0","d":"dotted","r":59.2,"v":50},{"p":"F","s":"fls = 0","d":"dotted","r":63.4,"v":47},{"p":"F","s":"fls = 0","d":"dotted","r":67.6,"v":46},{"p":"F","s":"fls = 0","d":"dotted","r":70,"v":45}
],
"walls": [
{"p":"A","r":30,"v":0,"v2":100},{"p":"A","r":50,"v":0,"v2":100},
{"p":"B","r":30,"v":0,"v2":86.2},{"p":"B","r":50,"v":0,"v2":100},
{"p":"C","r":30,"v":0,"v2":100},{"p":"C","r":50,"v":0,"v2":100},
{"p":"D","r":30,"v":0,"v2":4000},{"p":"D","r":50,"v":0,"v2":4000},
{"p":"E","r":30,"v":0,"v2":500},{"p":"E","r":50,"v":0,"v2":500},
{"p":"F","r":30,"v":0,"v2":500},{"p":"F","r":50,"v":0,"v2":500}
],
"limit": [
{"p":"A","r":0,"r2":70,"v":9},{"p":"B","r":0,"r2":70,"v":9},{"p":"C","r":0,"r2":70,"v":9}
],
"notes": [
{"p":"A","s":"dusty inner disk","label":"dusty\ninner\ndisk","r":5.1,"v":58.6},
{"p":"A","s":"no dusty inner disk","label":"no\ndusty\ninner\ndisk","r":35.1,"v":68},
{"p":"A","s":"note","label":"max. if\nτ ≫ 1","r":1.0,"v":24.1},
{"p":"B","s":"PAH = 0.001","label":"PAH =\n0.001","r":10.3,"v":57.5},
{"p":"B","s":"PAH = 0.1","label":"PAH\n= 0.1","r":5.4,"v":32.5},
{"p":"C","s":"fls = 0.98","label":"fₗₛ =\n0.98","r":5.4,"v":82.8},
{"p":"C","s":"fls = 0.85","label":"fₗₛ =\n0.85","r":15.3,"v":60},
{"p":"C","s":"fls = 0","label":"fₗₛ = 0","r":10.5,"v":23},
{"p":"D","s":"no dusty inner disk","label":"no dusty\ninner disk","r":5.1,"v":3769},
{"p":"D","s":"dusty inner disk","label":"dusty\ninner\ndisk","r":5.1,"v":1439},
{"p":"E","s":"PAH = 0.001","label":"PAH =\n0.001","r":10.3,"v":452},
{"p":"E","s":"PAH = 0.1","label":"PAH\n= 0.1","r":10.3,"v":122},
{"p":"F","s":"fls = 0.98","label":"fₗₛ = 0.98","r":5.4,"v":436.6},
{"p":"F","s":"fls = 0.85","label":"fₗₛ =\n0.85","r":10.3,"v":312.6},
{"p":"F","s":"fls = 0","label":"fₗₛ = 0","r":5.4,"v":56}
],
"cavity": [
{"p":"B","s":"note","label":"dust cavity","r":25.1,"v":93.1},
{"p":"B","s":"note","label":"gas\ncavity","r":15,"v":82.8}
],
"shafts": [
{"p":"B","r":0.9,"r2":10.1,"v":93.1},{"p":"B","r":39.9,"r2":49.2,"v":93.1},
{"p":"B","r":1.1,"r2":6.2,"v":78.2},{"p":"B","r":24,"r2":29.1,"v":78.2}
],
"heads": [
{"p":"B","dir":"left","r":0.9,"v":93.1},{"p":"B","dir":"right","r":49.2,"v":93.1},
{"p":"B","dir":"left","r":1.1,"v":78.2},{"p":"B","dir":"right","r":29.1,"v":78.2}
]
},
"concat": [
{
"width": 356, "height": 290,
"title": {"text": "dusty inner disk", "dx": -18},
"encoding": {
"x": {"field": "r", "type": "quantitative", "scale": {"domain": [0, 70], "nice": false}, "axis": {"values": [0, 20, 40, 60], "title": null}},
"y": {"field": "v", "type": "quantitative", "scale": {"domain": [0, 100], "nice": false}, "axis": {"values": [0, 20, 40, 60, 80, 100], "format": "d", "title": ["¹³CO J = 6 − 5", "─────────────", "¹³CO J = 2 − 1"], "titleFontSize": 23, "titleLineHeight": 19.5, "titlePadding": 16}}
},
"layer": [
{"data": {"name": "lines"}, "transform": [{"filter": "datum.p == 'A' && datum.d == 'solid'"}], "mark": {"type": "line", "strokeWidth": 4, "clip": true}, "encoding": {"color": {"field": "s", "type": "nominal", "scale": {"domain": ["dusty inner disk","PAH = 0.001","fls = 0.98","no dusty inner disk","PAH = 0.1","fls = 0.85","fls = 0","note"], "range": ["#1f77b4","#1f77b4","#1f77b4","#ff7f0e","#ff7f0e","#ff7f0e","#2ca02c","#000000"]}, "legend": null}}},
{"data": {"name": "limit"}, "transform": [{"filter": "datum.p == 'A'"}], "mark": {"type": "rule", "strokeWidth": 4, "strokeDash": [4, 8], "color": "black"}, "encoding": {"x2": {"field": "r2"}}},
{"data": {"name": "walls"}, "transform": [{"filter": "datum.p == 'A'"}], "mark": {"type": "rule", "strokeWidth": 5, "color": "black"}, "encoding": {"y2": {"field": "v2"}}},
{"data": {"name": "notes"}, "transform": [{"filter": "datum.p == 'A'"}], "mark": {"type": "text", "align": "left", "baseline": "middle", "lineBreak": "\n", "lineHeight": 27, "fontSize": 24}, "encoding": {"text": {"field": "label"}, "color": {"field": "s", "type": "nominal", "legend": null}}}
]
},
{
"width": 356, "height": 290,
"title": {"text": "PAH"},
"encoding": {
"x": {"field": "r", "type": "quantitative", "scale": {"domain": [0, 70], "nice": false}, "axis": {"values": [0, 20, 40, 60], "title": null}},
"y": {"field": "v", "type": "quantitative", "scale": {"domain": [0, 100], "nice": false}, "axis": {"values": [0, 20, 40, 60, 80, 100], "format": "d", "title": null}}
},
"layer": [
{"data": {"name": "lines"}, "transform": [{"filter": "datum.p == 'B' && datum.d == 'solid'"}], "mark": {"type": "line", "strokeWidth": 4, "clip": true}, "encoding": {"color": {"field": "s", "type": "nominal", "legend": null}}},
{"data": {"name": "limit"}, "transform": [{"filter": "datum.p == 'B'"}], "mark": {"type": "rule", "strokeWidth": 4, "strokeDash": [4, 8], "color": "black"}, "encoding": {"x2": {"field": "r2"}}},
{"data": {"name": "walls"}, "transform": [{"filter": "datum.p == 'B'"}], "mark": {"type": "rule", "strokeWidth": 5, "color": "black"}, "encoding": {"y2": {"field": "v2"}}},
{"data": {"name": "notes"}, "transform": [{"filter": "datum.p == 'B'"}], "mark": {"type": "text", "align": "left", "baseline": "middle", "lineBreak": "\n", "lineHeight": 27, "fontSize": 24}, "encoding": {"text": {"field": "label"}, "color": {"field": "s", "type": "nominal", "legend": null}}},
{"data": {"name": "cavity"}, "mark": {"type": "text", "align": "center", "baseline": "middle", "lineBreak": "\n", "lineHeight": 27, "fontSize": 24}, "encoding": {"text": {"field": "label"}, "color": {"field": "s", "type": "nominal", "legend": null}}},
{"data": {"name": "shafts"}, "mark": {"type": "rule", "strokeWidth": 2.5, "color": "black"}, "encoding": {"x2": {"field": "r2"}}},
{"data": {"name": "heads"}, "transform": [{"filter": "datum.dir == 'left'"}], "mark": {"type": "point", "shape": "M2,-1L0,0L2,1", "size": 100, "filled": false, "stroke": "black", "strokeWidth": 2.5, "opacity": 1}, "encoding": {}},
{"data": {"name": "heads"}, "transform": [{"filter": "datum.dir == 'right'"}], "mark": {"type": "point", "shape": "M-2,-1L0,0L-2,1", "size": 100, "filled": false, "stroke": "black", "strokeWidth": 2.5, "opacity": 1}, "encoding": {}}
]
},
{
"width": 356, "height": 290,
"title": {"text": "grain growth"},
"encoding": {
"x": {"field": "r", "type": "quantitative", "scale": {"domain": [0, 70], "nice": false}, "axis": {"values": [0, 20, 40, 60], "title": null}},
"y": {"field": "v", "type": "quantitative", "scale": {"domain": [0, 100], "nice": false}, "axis": {"values": [0, 20, 40, 60, 80, 100], "format": "d", "title": null}}
},
"layer": [
{"data": {"name": "lines"}, "transform": [{"filter": "datum.p == 'C' && datum.d == 'solid'"}], "mark": {"type": "line", "strokeWidth": 4, "clip": true}, "encoding": {"color": {"field": "s", "type": "nominal", "legend": null}}},
{"data": {"name": "limit"}, "transform": [{"filter": "datum.p == 'C'"}], "mark": {"type": "rule", "strokeWidth": 4, "strokeDash": [4, 8], "color": "black"}, "encoding": {"x2": {"field": "r2"}}},
{"data": {"name": "walls"}, "transform": [{"filter": "datum.p == 'C'"}], "mark": {"type": "rule", "strokeWidth": 5, "color": "black"}, "encoding": {"y2": {"field": "v2"}}},
{"data": {"name": "notes"}, "transform": [{"filter": "datum.p == 'C'"}], "mark": {"type": "text", "align": "left", "baseline": "middle", "lineBreak": "\n", "lineHeight": 27, "fontSize": 24}, "encoding": {"text": {"field": "label"}, "color": {"field": "s", "type": "nominal", "legend": null}}}
]
},
{
"width": 356, "height": 290,
"encoding": {
"x": {"field": "r", "type": "quantitative", "scale": {"domain": [0, 70], "nice": false}, "axis": {"values": [0, 20, 40, 60], "title": "r (AU)"}},
"y": {"field": "v", "type": "quantitative", "scale": {"domain": [0, 4000], "nice": false}, "axis": {"values": [0, 1000, 2000, 3000, 4000], "format": "d", "title": "Tgas (K)", "titleFontSize": 25, "titlePadding": 19}}
},
"layer": [
{"data": {"name": "walls"}, "transform": [{"filter": "datum.p == 'D'"}], "mark": {"type": "rule", "strokeWidth": 5, "color": "black"}, "encoding": {"y2": {"field": "v2"}}},
{"data": {"name": "lines"}, "transform": [{"filter": "datum.p == 'D' && datum.d == 'solid'"}], "mark": {"type": "line", "strokeWidth": 4, "clip": true}, "encoding": {"color": {"field": "s", "type": "nominal", "legend": null}}},
{"data": {"name": "lines"}, "transform": [{"filter": "datum.p == 'D' && datum.d == 'dotted'"}], "mark": {"type": "line", "strokeWidth": 7, "strokeDash": [7, 12], "strokeCap": "butt", "clip": true}, "encoding": {"color": {"field": "s", "type": "nominal", "legend": null}}},
{"data": {"name": "notes"}, "transform": [{"filter": "datum.p == 'D'"}], "mark": {"type": "text", "align": "left", "baseline": "middle", "lineBreak": "\n", "lineHeight": 27, "fontSize": 24}, "encoding": {"text": {"field": "label"}, "color": {"field": "s", "type": "nominal", "legend": null}}}
]
},
{
"width": 356, "height": 290,
"encoding": {
"x": {"field": "r", "type": "quantitative", "scale": {"domain": [0, 70], "nice": false}, "axis": {"values": [0, 20, 40, 60], "title": "r (AU)"}},
"y": {"field": "v", "type": "quantitative", "scale": {"domain": [0, 500], "nice": false}, "axis": {"values": [0, 100, 200, 300, 400, 500], "format": "d", "title": null}}
},
"layer": [
{"data": {"name": "walls"}, "transform": [{"filter": "datum.p == 'E'"}], "mark": {"type": "rule", "strokeWidth": 5, "color": "black"}, "encoding": {"y2": {"field": "v2"}}},
{"data": {"name": "lines"}, "transform": [{"filter": "datum.p == 'E' && datum.d == 'solid'"}], "mark": {"type": "line", "strokeWidth": 4, "clip": true}, "encoding": {"color": {"field": "s", "type": "nominal", "legend": null}}},
{"data": {"name": "lines"}, "transform": [{"filter": "datum.p == 'E' && datum.d == 'dotted'"}], "mark": {"type": "line", "strokeWidth": 7, "strokeDash": [7, 12], "strokeCap": "butt", "clip": true}, "encoding": {"color": {"field": "s", "type": "nominal", "legend": null}}},
{"data": {"name": "notes"}, "transform": [{"filter": "datum.p == 'E'"}], "mark": {"type": "text", "align": "left", "baseline": "middle", "lineBreak": "\n", "lineHeight": 27, "fontSize": 24}, "encoding": {"text": {"field": "label"}, "color": {"field": "s", "type": "nominal", "legend": null}}}
]
},
{
"width": 356, "height": 290,
"encoding": {
"x": {"field": "r", "type": "quantitative", "scale": {"domain": [0, 70], "nice": false}, "axis": {"values": [0, 20, 40, 60], "title": "r (AU)"}},
"y": {"field": "v", "type": "quantitative", "scale": {"domain": [0, 500], "nice": false}, "axis": {"values": [0, 100, 200, 300, 400, 500], "format": "d", "title": null}}
},
"layer": [
{"data": {"name": "walls"}, "transform": [{"filter": "datum.p == 'F'"}], "mark": {"type": "rule", "strokeWidth": 5, "color": "black"}, "encoding": {"y2": {"field": "v2"}}},
{"data": {"name": "lines"}, "transform": [{"filter": "datum.p == 'F' && datum.d == 'solid'"}], "mark": {"type": "line", "strokeWidth": 4, "clip": true}, "encoding": {"color": {"field": "s", "type": "nominal", "legend": null}}},
{"data": {"name": "lines"}, "transform": [{"filter": "datum.p == 'F' && datum.d == 'dotted'"}], "mark": {"type": "line", "strokeWidth": 7, "strokeDash": [7, 12], "strokeCap": "butt", "clip": true}, "encoding": {"color": {"field": "s", "type": "nominal", "legend": null}}},
{"data": {"name": "notes"}, "transform": [{"filter": "datum.p == 'F'"}], "mark": {"type": "text", "align": "left", "baseline": "middle", "lineBreak": "\n", "lineHeight": 27, "fontSize": 24}, "encoding": {"text": {"field": "label"}, "color": {"field": "s", "type": "nominal", "legend": null}}}
]
}
],
"columns": 3,
"spacing": {"row": 72, "column": 85},
"bounds": "flush",
"resolve": {"scale": {"color": "shared"}},
"config": {
"font": "DejaVu Sans",
"view": {"stroke": "black", "strokeWidth": 1},
"axis": {"grid": false, "domainColor": "black", "tickColor": "black", "labelColor": "black", "titleColor": "black", "labelFontSize": 23, "titleFontSize": 24, "titleFontWeight": "normal", "tickSize": 5, "labelPadding": 6, "labelFlush": false, "labelFont": "DejaVu Sans", "titleFont": "DejaVu Sans", "titlePadding": 8},
"title": {"fontSize": 25, "fontWeight": "normal", "font": "DejaVu Sans", "color": "black", "offset": -8, "frame": "group", "anchor": "middle"},
"text": {"font": "DejaVu Sans"}
}
}
